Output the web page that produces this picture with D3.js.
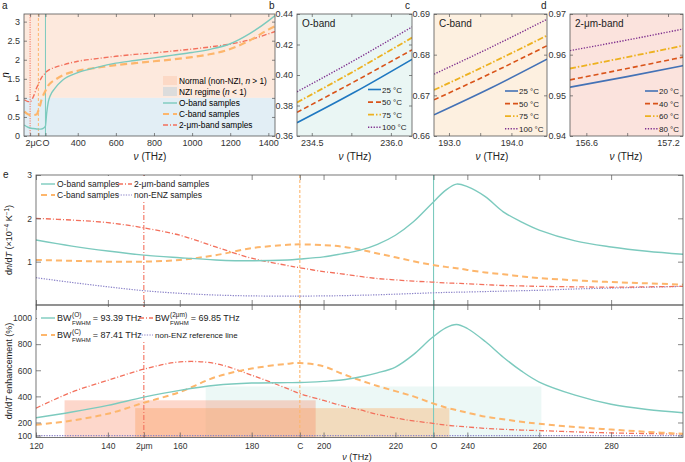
<!DOCTYPE html>
<meta charset="utf-8">
<style>
body { margin: 0; background: #fff; }
svg { font-family: "Liberation Sans", Arial, Helvetica, sans-serif; }
.tick text { fill: #333; }
.tick line { stroke: #555; stroke-width: 0.7; }
</style>
<body>
<script src="https://d3js.org/d3.v7.min.js"></script>
<script>

// ---------- data: panel a (refractive index n vs frequency, THz)
var freqA   = [120, 135, 150, 167, 185, 193, 200, 210, 215, 230, 237, 245, 255, 280, 320, 400, 500, 600, 700, 800, 900, 1000, 1100, 1200, 1300, 1400, 1435];
var nOband  = [0.29, 0.24, 0.21, 0.195, 0.185, 0.18, 0.18, 0.185, 0.19, 0.25, 0.6, 0.88, 1.05, 1.25, 1.46, 1.66, 1.80, 1.91, 1.98, 2.05, 2.12, 2.19, 2.28, 2.42, 2.68, 3.02, 3.16];
var nCband  = [0.64, 0.58, 0.55, 0.55, 0.57, 0.66, 0.76, 0.95, 1.02, 1.18, 1.25, 1.32, 1.38, 1.47, 1.59, 1.71, 1.79, 1.86, 1.91, 1.96, 2.01, 2.07, 2.15, 2.28, 2.50, 2.79, 2.88];
var n2um    = [0.95, 0.91, 0.90, 1.03, 1.27, 1.36, 1.44, 1.53, 1.57, 1.65, 1.69, 1.72, 1.75, 1.80, 1.86, 1.96, 2.03, 2.09, 2.14, 2.18, 2.23, 2.28, 2.34, 2.41, 2.52, 2.68, 2.74];
var bandFreq  = [150, 193.4, 230.6];          // 2um, C, O
var bandTickA = ["2\u03bc", "C", "O"];

// ---------- data: panels b-d (n vs frequency at several temperatures)
var freqB = [234.22, 235.3, 236.40];
var tempB = ["25 \u00b0C", "50 \u00b0C", "75 \u00b0C", "100 \u00b0C"];
var nB = [[0.3687, 0.3885, 0.4103], [0.3755, 0.3955, 0.4165], [0.3820, 0.4025, 0.4245], [0.3890, 0.4095, 0.4315]];

var freqC = [192.76, 193.67, 194.57];
var tempC = ["25 \u00b0C", "50 \u00b0C", "75 \u00b0C", "100 \u00b0C"];
var nC = [[0.6652, 0.6718, 0.6789], [0.6689, 0.6754, 0.6822], [0.6713, 0.6779, 0.6847], [0.6752, 0.6818, 0.6887]];

var freqD = [156.48, 156.9, 157.31];
var tempD = ["20 \u00b0C", "40 \u00b0C", "60 \u00b0C", "80 \u00b0C"];
var nD = [[0.9520, 0.9546, 0.9573], [0.9538, 0.9566, 0.9594], [0.9566, 0.9594, 0.9622], [0.9610, 0.9636, 0.9663]];

// ---------- data: panel e
var freqE   = [120, 130, 140, 150, 160, 170, 180, 190, 193.4, 200, 205, 210, 215, 220, 225, 230, 234, 237, 240, 245, 250, 255, 260, 270, 280, 290, 300];
var dndtO   = [1.50, 1.36, 1.245, 1.15, 1.09, 1.04, 1.02, 1.04, 1.06, 1.11, 1.18, 1.26, 1.40, 1.61, 1.92, 2.33, 2.65, 2.79, 2.73, 2.50, 2.15, 1.92, 1.73, 1.48, 1.34, 1.24, 1.17];
var dndtC   = [1.04, 1.02, 1.00, 1.00, 1.04, 1.15, 1.31, 1.39, 1.40, 1.38, 1.35, 1.28, 1.19, 1.10, 1.01, 0.93, 0.88, 0.85, 0.81, 0.75, 0.71, 0.66, 0.62, 0.57, 0.53, 0.50, 0.47];
var dndt2um = [2.00, 1.96, 1.90, 1.78, 1.61, 1.34, 1.08, 0.91, 0.86, 0.77, 0.72, 0.66, 0.61, 0.58, 0.55, 0.53, 0.51, 0.50, 0.49, 0.47, 0.45, 0.44, 0.43, 0.42, 0.41, 0.42, 0.43];
var dndtRef = [0.63, 0.52, 0.42, 0.33, 0.27, 0.23, 0.21, 0.205, 0.205, 0.21, 0.215, 0.225, 0.235, 0.25, 0.265, 0.28, 0.29, 0.295, 0.30, 0.31, 0.32, 0.33, 0.34, 0.37, 0.39, 0.41, 0.43];
var enhO    = [236, 280, 331, 394, 446, 485, 502, 505, 506, 515, 525, 548, 580, 625, 720, 845, 925, 951, 920, 820, 700, 595, 510, 410, 340, 300, 275];
var enhC    = [182, 215, 267, 351, 433, 548, 613, 650, 656, 630, 575, 525, 480, 440, 400, 350, 315, 295, 275, 245, 225, 205, 190, 165, 146, 128, 113];
var enh2um  = [310, 433, 523, 608, 664, 651, 562, 459, 421, 369, 330, 298, 262, 235, 212, 195, 180, 172, 166, 155, 148, 142, 138, 128, 120, 115, 112];
var enhRef  = 100;
var ticksE  = [120, 140, 150, 160, 180, 193.4, 200, 220, 230.6, 240, 260, 280];
var tickLabE = ["120", "140", "2\u03bcm", "160", "180", "C", "200", "220", "O", "240", "260", "280"];
// FWHM bands (O, C, 2um)
var bwLo    = [167.2, 147.6, 127.95];
var bwHi    = [260.6, 235.0, 197.8];
var bwLevel = [476, 310, 370];
var bwText  = ["93.39", "87.41", "69.85"];

// ---------- styles
var cTeal = "#7ccabe", cOrange = "#fdb66c", cRed = "#f3705c", cPurple = "#8a82c8";
var bandStyle = [
  { c: cTeal, w: 1.4, d: null },
  { c: cOrange, w: 2, d: "6,4" },
  { c: cRed, w: 1.3, d: "5,2,1,2" },
  { c: cPurple, w: 1.2, d: "1.3,1.3" }
];
var tempStyle = [
  { w: 1.6, d: null },
  { w: 1.6, d: "5,3" },
  { w: 1.8, d: "6,2,1.5,2" },
  { w: 1.4, d: "1.3,1.5" }
];

var svg = d3.select("body").append("svg").attr("width", 685).attr("height", 462);
var defs = svg.append("defs");
var clipN = 0;

function boxAxes(g, x, y, o) {
  var x0 = x.range()[0], x1 = x.range()[1], yb = y.range()[0], yt = y.range()[1];
  var tl = o.tl || 3, fs = o.fs || 9;
  var xf = o.xf || function(d) { return d; };
  var yf = o.yf || function(d) { return d; };
  if (o.bottom !== false) {
    g.append("g").attr("transform", "translate(0," + yb + ")")
      .call(d3.axisBottom(x).tickValues(o.xt).tickSize(-tl).tickSizeOuter(0).tickPadding(o.xpad || 4)
        .tickFormat(o.noXLab ? "" : xf))
      .call(function(s) { s.select(".domain").remove(); s.selectAll("text").attr("font-size", fs); });
  }
  if (o.top !== false) {
    g.append("g").attr("transform", "translate(0," + yt + ")")
      .call(d3.axisTop(x).tickValues(o.xt).tickSize(-tl).tickSizeOuter(0).tickFormat(""))
      .call(function(s) { s.select(".domain").remove(); });
  }
  g.append("g").attr("transform", "translate(" + x0 + ",0)")
    .call(d3.axisLeft(y).tickValues(o.yt).tickSize(-tl).tickSizeOuter(0).tickPadding(4).tickFormat(yf))
    .call(function(s) { s.select(".domain").remove(); s.selectAll("text").attr("font-size", fs); });
  g.append("g").attr("transform", "translate(" + x1 + ",0)")
    .call(d3.axisRight(y).tickValues(o.yt).tickSize(-tl).tickSizeOuter(0).tickFormat(""))
    .call(function(s) { s.select(".domain").remove(); });
  g.append("rect").attr("x", x0).attr("y", yt).attr("width", x1 - x0).attr("height", yb - yt)
    .attr("fill", "none").attr("stroke", "#555").attr("stroke-width", 0.8);
}

function clipFor(x, y) {
  var id = "clip" + (clipN++);
  defs.append("clipPath").attr("id", id).append("rect")
    .attr("x", x.range()[0]).attr("y", y.range()[1])
    .attr("width", x.range()[1] - x.range()[0]).attr("height", y.range()[0] - y.range()[1]);
  return "url(#" + id + ")";
}

function nuLabel(g, cx, cy, fs) {
  var t = g.append("text").attr("x", cx).attr("y", cy).attr("text-anchor", "middle")
    .attr("font-size", fs || 10).attr("fill", "#222");
  t.append("tspan").attr("font-style", "italic").text("\u03bd");
  t.append("tspan").text(" (THz)");
}

function panelLabel(txt, x, y) {
  svg.append("text").attr("x", x).attr("y", y).attr("font-size", 10).attr("fill", "#222").text(txt);
}

// ================= panel a
(function() {
  var x = d3.scaleLinear().domain([118, 1435]).range([24, 275]);
  var y = d3.scaleLinear().domain([0, 3.2]).range([136, 14]);
  var g = svg.append("g");
  g.append("rect").attr("x", 24).attr("y", y(3.2)).attr("width", 251).attr("height", y(1) - y(3.2)).attr("fill", "#fde9dd");
  g.append("rect").attr("x", 24).attr("y", y(1)).attr("width", 251).attr("height", y(0) - y(1)).attr("fill", "#e2eef5");

  // band markers
  var vs = [bandStyle[2], bandStyle[1], bandStyle[0]];
  bandFreq.forEach(function(f, i) {
    g.append("line").attr("x1", x(f)).attr("x2", x(f)).attr("y1", y(0)).attr("y2", y(3.2))
      .attr("stroke", vs[i].c).attr("stroke-width", 1)
      .attr("stroke-dasharray", i === 0 ? "1.2,1.2" : (i === 1 ? "3,2" : null));
  });

  var series = [nOband, nCband, n2um];
  var line = d3.line().x(function(d, i) { return x(freqA[i]); }).y(function(d) { return y(d); }).curve(d3.curveMonotoneX);
  var cp = clipFor(x, y);
  [2, 1, 0].forEach(function(k) {
    g.append("path").attr("d", line(series[k])).attr("fill", "none").attr("clip-path", cp)
      .attr("stroke", bandStyle[k].c).attr("stroke-width", k === 1 ? 2.2 : 1.4)
      .attr("stroke-dasharray", k === 1 ? "7,4" : bandStyle[k].d);
  });

  var xt = bandFreq.concat([400, 600, 800, 1000, 1200, 1400]);
  boxAxes(g, x, y, {
    xt: xt, yt: [0, 0.5, 1, 1.5, 2, 2.5, 3], fs: 9,
    xf: function(d) { var i = bandFreq.indexOf(d); return i >= 0 ? bandTickA[i] : d; }
  });
  nuLabel(g, 150, 160);
  g.append("text").attr("transform", "translate(9,75) rotate(-90)").attr("text-anchor", "middle")
    .attr("font-size", 10).attr("font-style", "italic").text("n");

  // legend
  var lx = 163, ly = [81, 92, 103, 114, 125];
  g.append("rect").attr("x", lx).attr("y", ly[0] - 5).attr("width", 14).attr("height", 9).attr("fill", "#fcd9c6");
  g.append("rect").attr("x", lx).attr("y", ly[1] - 5).attr("width", 14).attr("height", 9).attr("fill", "#dcdcdc");
  var t0 = g.append("text").attr("x", lx + 16).attr("y", ly[0] + 3).attr("font-size", 8.3);
  t0.append("tspan").text("Normal (non-NZI, ");
  t0.append("tspan").attr("font-style", "italic").text("n");
  t0.append("tspan").text(" > 1)");
  var t1 = g.append("text").attr("x", lx + 16).attr("y", ly[1] + 3).attr("font-size", 8.3);
  t1.append("tspan").text("NZI regime (");
  t1.append("tspan").attr("font-style", "italic").text("n");
  t1.append("tspan").text(" < 1)");
  var names = ["O-band samples", "C-band samples", "2-\u03bcm-band samples"];
  names.forEach(function(nm, k) {
    var yy = ly[k + 2];
    g.append("line").attr("x1", lx).attr("x2", lx + 14).attr("y1", yy).attr("y2", yy)
      .attr("stroke", bandStyle[k].c).attr("stroke-width", k === 1 ? 2.2 : 1.4)
      .attr("stroke-dasharray", k === 1 ? "6,4" : bandStyle[k].d);
    g.append("text").attr("x", lx + 16).attr("y", yy + 3).attr("font-size", 8.3).text(nm);
  });
})();
panelLabel("a", 2, 9);

// ================= panels b-d
function tempPanel(o) {
  var x = d3.scaleLinear().domain(o.xd).range([o.x0, o.x1]);
  var y = d3.scaleLinear().domain(o.yd).range([136, 14]);
  var g = svg.append("g");
  g.append("rect").attr("x", o.x0).attr("y", 14).attr("width", o.x1 - o.x0).attr("height", 122).attr("fill", o.bg);
  var cols = [o.blue, "#d95319", "#edb120", "#7e2f8e"];
  var line = d3.line().x(function(d, i) { return x(o.freq[i]); }).y(function(d) { return y(d); }).curve(d3.curveMonotoneX);
  var cp = clipFor(x, y);
  o.vals.forEach(function(v, k) {
    g.append("path").attr("d", line(v)).attr("fill", "none").attr("clip-path", cp)
      .attr("stroke", cols[k]).attr("stroke-width", tempStyle[k].w).attr("stroke-dasharray", tempStyle[k].d);
  });
  boxAxes(g, x, y, {
    xt: o.xt, yt: o.yt, fs: 9,
    xf: function(d, i) { return o.xlab[i]; },
    yf: d3.format(o.yfmt)
  });
  nuLabel(g, o.xlabX, 160);
  g.append("text").attr("x", o.x0 + 5).attr("y", 27).attr("font-size", 10).attr("fill", "#222").text(o.title);
  o.temps.forEach(function(t, k) {
    var yy = o.legY + k * 12.6;
    g.append("line").attr("x1", o.legX).attr("x2", o.legX + 13).attr("y1", yy).attr("y2", yy)
      .attr("stroke", cols[k]).attr("stroke-width", tempStyle[k].w).attr("stroke-dasharray", tempStyle[k].d);
    g.append("text").attr("x", o.legX + 14).attr("y", yy + 3).attr("font-size", 8).attr("fill", "#222").text(t);
  });
}

tempPanel({ x0: 297, x1: 412, xd: [234.22, 236.40], yd: [0.36, 0.44], freq: freqB, vals: nB, temps: tempB,
  xt: [234.5, 235.25, 236.0], xlab: ["234.5", "", "236.0"], yt: [0.36, 0.38, 0.40, 0.42, 0.44], yfmt: ".2f",
  bg: "#eaf6f4", title: "O-band", blue: "#1f78c1", legX: 368, legY: 89.5, xlabX: 355 });
tempPanel({ x0: 434, x1: 547, xd: [192.76, 194.57], yd: [0.66, 0.69], freq: freqC, vals: nC, temps: tempC,
  xt: [193.0, 193.5, 194.0], xlab: ["193.0", "", "194.0"], yt: [0.66, 0.67, 0.68, 0.69], yfmt: ".2f",
  bg: "#fdf0e0", title: "C-band", blue: "#4472b6", legX: 505, legY: 91, xlabX: 492 });
tempPanel({ x0: 570, x1: 683, xd: [156.48, 157.31], yd: [0.94, 0.97], freq: freqD, vals: nD, temps: tempD,
  xt: [156.6, 156.9, 157.2], xlab: ["156.6", "", "157.2"], yt: [0.94, 0.95, 0.96, 0.97], yfmt: ".2f",
  bg: "#fbe3dd", title: "2-\u03bcm-band", blue: "#4472b6", legX: 645, legY: 91, xlabX: 626 });
panelLabel("b", 269, 9);
panelLabel("c", 405, 9);
panelLabel("d", 541, 9);

// ================= panel e
(function() {
  var x = d3.scaleLinear().domain([120, 300]).range([36, 683]);
  var yT = d3.scaleLinear().domain([0, 3]).range([305, 175]);
  var yB = d3.scaleLinear().domain([85, 1100]).range([437.5, 305]);
  var g = svg.append("g");
  var cpT = clipFor(x, yT), cpB = clipFor(x, yB);

  // FWHM shaded bands
  var bwFill = ["rgba(141,211,199,0.17)", "rgba(253,168,90,0.36)", "rgba(249,122,82,0.30)"];
  bwLo.forEach(function(lo, k) {
    g.append("rect").attr("x", x(lo)).attr("width", x(bwHi[k]) - x(lo))
      .attr("y", yB(bwLevel[k])).attr("height", yB(85) - yB(bwLevel[k]))
      .attr("fill", bwFill[k]).attr("clip-path", cpB);
  });

  // band markers across both subplots
  var vs = [bandStyle[2], bandStyle[1], bandStyle[0]];
  bandFreq.forEach(function(f, i) {
    g.append("line").attr("x1", x(f)).attr("x2", x(f)).attr("y1", 175).attr("y2", 437.5)
      .attr("stroke", vs[i].c).attr("stroke-width", 1.1)
      .attr("stroke-dasharray", i === 0 ? "5,2,1,2" : (i === 1 ? "3,2" : null));
  });

  function draw(vals, yS, k, cp) {
    var line = d3.line().x(function(d, i) { return x(freqE[i]); }).y(function(d) { return yS(d); })
      .curve(d3.curveCatmullRom.alpha(0.5));
    g.append("path").attr("d", line(vals)).attr("fill", "none").attr("clip-path", cp)
      .attr("stroke", bandStyle[k].c).attr("stroke-width", bandStyle[k].w).attr("stroke-dasharray", bandStyle[k].d);
  }
  draw(dndtRef, yT, 3, cpT);
  draw(dndt2um, yT, 2, cpT);
  draw(dndtC, yT, 1, cpT);
  draw(dndtO, yT, 0, cpT);
  g.append("line").attr("x1", x(120)).attr("x2", x(300)).attr("y1", yB(enhRef)).attr("y2", yB(enhRef))
    .attr("stroke", cPurple).attr("stroke-width", 1.2).attr("stroke-dasharray", "1.3,1.3");
  draw(enh2um, yB, 2, cpB);
  draw(enhC, yB, 1, cpB);
  draw(enhO, yB, 0, cpB);

  boxAxes(g, x, yT, { xt: ticksE, yt: [1, 2, 3], tl: 5, fs: 8.5, noXLab: true });
  boxAxes(g, x, yB, { xt: ticksE, yt: [100, 200, 400, 600, 800, 1000], tl: 5, fs: 8.5, xpad: 5,
    xf: function(d, i) { return tickLabE[i]; } });
  nuLabel(g, 357, 460, 9);

  // y labels
  var yl = g.append("text").attr("transform", "translate(12,240) rotate(-90)").attr("text-anchor", "middle")
    .attr("font-size", 9).attr("fill", "#222");
  yl.append("tspan").text("d");
  yl.append("tspan").attr("font-style", "italic").text("n");
  yl.append("tspan").text("/d");
  yl.append("tspan").attr("font-style", "italic").text("T");
  yl.append("tspan").text(" (\u00d710");
  yl.append("tspan").attr("dy", -3.5).attr("font-size", 6.5).text("\u22124");
  yl.append("tspan").attr("dy", 3.5).text(" K");
  yl.append("tspan").attr("dy", -3.5).attr("font-size", 6.5).text("\u22121");
  yl.append("tspan").attr("dy", 3.5).text(")");
  var yl2 = g.append("text").attr("transform", "translate(12,371) rotate(-90)").attr("text-anchor", "middle")
    .attr("font-size", 9).attr("fill", "#222");
  yl2.append("tspan").text("d");
  yl2.append("tspan").attr("font-style", "italic").text("n");
  yl2.append("tspan").text("/d");
  yl2.append("tspan").attr("font-style", "italic").text("T");
  yl2.append("tspan").text(" enhancement (%)");

  // top legend
  g.append("rect").attr("x", 37).attr("y", 176).attr("width", 172).attr("height", 24).attr("fill", "#fff");
  var legT = [
    { k: 0, x: 41, y: 184, t: "O-band samples" },
    { k: 2, x: 118, y: 184, t: "2-\u03bcm-band samples" },
    { k: 1, x: 41, y: 195, t: "C-band samples" },
    { k: 3, x: 118, y: 195, t: "non-ENZ samples" }
  ];
  legT.forEach(function(l) {
    g.append("line").attr("x1", l.x).attr("x2", l.x + 14).attr("y1", l.y).attr("y2", l.y)
      .attr("stroke", bandStyle[l.k].c).attr("stroke-width", bandStyle[l.k].w).attr("stroke-dasharray", bandStyle[l.k].d);
    g.append("text").attr("x", l.x + 16).attr("y", l.y + 3).attr("font-size", 8.5).attr("fill", "#222").text(l.t);
  });

  // bottom legend
  g.append("rect").attr("x", 37).attr("y", 307).attr("width", 208).attr("height", 35).attr("fill", "#fff");
  var legB = [
    { k: 0, x: 41, y: 318, sup: "(O)", val: bwText[0] },
    { k: 2, x: 139, y: 318, sup: "(2\u03bcm)", val: bwText[2] },
    { k: 1, x: 41, y: 335, sup: "(C)", val: bwText[1] }
  ];
  legB.forEach(function(l) {
    g.append("line").attr("x1", l.x).attr("x2", l.x + 14).attr("y1", l.y).attr("y2", l.y)
      .attr("stroke", bandStyle[l.k].c).attr("stroke-width", bandStyle[l.k].w).attr("stroke-dasharray", bandStyle[l.k].d);
    var bx = l.x + 16;
    var bw = g.append("text").attr("x", bx).attr("y", l.y + 3).attr("font-size", 9).attr("fill", "#222").text("BW");
    var w0 = bw.node().getComputedTextLength();
    var sp = g.append("text").attr("x", bx + w0 + 0.5).attr("y", l.y - 1.5).attr("font-size", 6.5).attr("fill", "#222").text(l.sup);
    var sb = g.append("text").attr("x", bx + w0 + 0.5).attr("y", l.y + 6.5).attr("font-size", 6).attr("fill", "#222").text("FWHM");
    var w1 = Math.max(sp.node().getComputedTextLength(), sb.node().getComputedTextLength());
    g.append("text").attr("x", bx + w0 + w1 + 2.5).attr("y", l.y + 3).attr("font-size", 9).attr("fill", "#222")
      .text("= " + l.val + " THz");
  });
  g.append("line").attr("x1", 139).attr("x2", 153).attr("y1", 335).attr("y2", 335)
    .attr("stroke", cPurple).attr("stroke-width", 1.2).attr("stroke-dasharray", "1.3,1.3");
  g.append("text").attr("x", 155).attr("y", 338).attr("font-size", 8).attr("fill", "#222").text("non-ENZ reference line");
})();
panelLabel("e", 3, 178);

</script>
</body>
